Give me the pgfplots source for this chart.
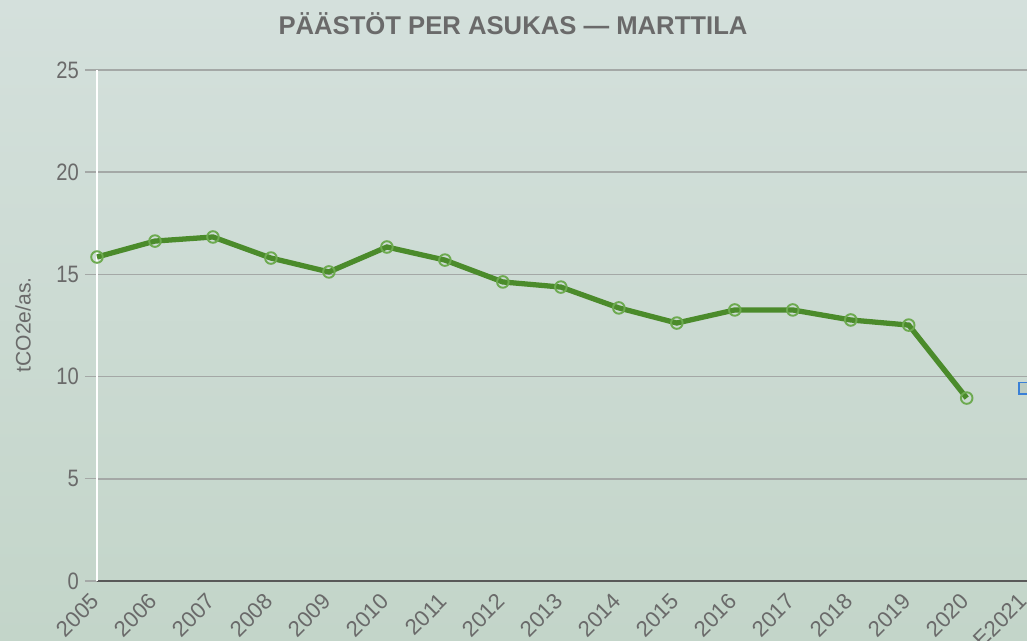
\documentclass[border=0pt]{standalone}
\usepackage{pgfplots}
\pgfplotsset{compat=1.18}
\usepackage{fontspec}
\setmainfont{Liberation Sans}
\newfontfamily\condfont[FakeStretch=0.85]{Liberation Sans}
\definecolor{bgtop}{HTML}{D4E0DC}
\definecolor{bgbot}{HTML}{C3D5C9}
\definecolor{lgreen}{HTML}{4B8B2B}
\definecolor{mgreen}{HTML}{6DAA50}
\definecolor{tgray}{HTML}{6A6A6A}
\definecolor{ggray}{HTML}{A4A8A6}
\definecolor{bblue}{HTML}{3A80D6}
\begin{document}
\begin{tikzpicture}
\clip (0,0) rectangle (20.54cm,12.82cm);
\shade[top color=bgtop,bottom color=bgbot] (0,0) rectangle (20.54cm,12.82cm);
\node[font=\fontsize{14.6}{16}\selectfont\bfseries, text=tgray] at (10.26cm,12.34cm) {PÄÄSTÖT PER ASUKAS — MARTTILA};
\node[font=\fontsize{12}{14}\selectfont, text=tgray, rotate=90] at (0.46cm,6.32cm) {tCO2e/as.};
\begin{axis}[
  at={(1.94cm,1.2cm)}, anchor=south west,
  scale only axis, width=18.6cm, height=10.22cm,
  xmin=0, xmax=16.04, ymin=0, ymax=25,
  axis lines=left, axis line style={-},
  x axis line style={draw=black!65, line width=1.4pt},
  y axis line style={draw=white, line width=0.8pt},
  ytick={0,5,10,15,20,25},
  xtick={0,...,16},
  xticklabels={2005,2006,2007,2008,2009,2010,2011,2012,2013,2014,2015,2016,2017,2018,2019,2020,E2021},
  xticklabel style={rotate=45, anchor=north east, font=\fontsize{12.6}{14}\selectfont, text=tgray, inner sep=1pt, xshift=-1.5pt, yshift=4.5pt},
  yticklabel style={font=\condfont\fontsize{13.5}{14}\selectfont, text=tgray},
  /pgf/number format/assume math mode=true,
  ymajorgrids, grid style={draw=ggray, line width=0.9pt},
  tick align=outside, major tick length=0.24cm,
  ytick style={draw=ggray, line width=0.8pt},
  xtick style={draw=none},
  clip=false,
]
\addplot[lgreen, line width=3pt, mark=o, mark size=3.3pt, mark options={draw=mgreen, line width=1.1pt, fill=none}]
 coordinates {(0,15.85) (1,16.63) (2,16.83) (3,15.80) (4,15.12) (5,16.34) (6,15.70) (7,14.63) (8,14.38) (9,13.36) (10,12.62) (11,13.26) (12,13.26) (13,12.77) (14,12.52) (15,8.95)};
\addplot[only marks, mark=square*, mark size=3.2pt, mark options={draw=bblue, fill=bgbot!90!gray, line width=1pt}]
 coordinates {(16,9.44)};
\end{axis}
\end{tikzpicture}
\end{document}
